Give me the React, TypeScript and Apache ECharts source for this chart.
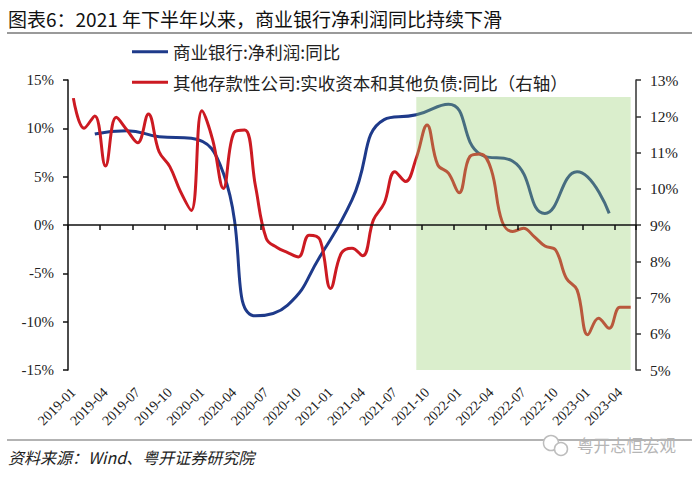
import React, { useEffect, useRef } from "react";
import * as echarts from "echarts";

const months: string[] = [
  "2019-01", "2019-02", "2019-03", "2019-04", "2019-05", "2019-06", "2019-07", "2019-08", "2019-09", "2019-10", "2019-11", "2019-12",
  "2020-01", "2020-02", "2020-03", "2020-04", "2020-05", "2020-06", "2020-07", "2020-08", "2020-09", "2020-10", "2020-11", "2020-12",
  "2021-01", "2021-02", "2021-03", "2021-04", "2021-05", "2021-06", "2021-07", "2021-08", "2021-09", "2021-10", "2021-11", "2021-12",
  "2022-01", "2022-02", "2022-03", "2022-04", "2022-05", "2022-06", "2022-07", "2022-08", "2022-09", "2022-10", "2022-11", "2022-12",
  "2023-01", "2023-02", "2023-03", "2023-04", "2023-05",
];

// 商业银行:净利润:同比 (quarterly, left axis, %)
const quarterMonths: string[] = [
  "2019-03", "2019-06", "2019-09", "2019-12", "2020-03", "2020-06", "2020-09", "2020-12",
  "2021-03", "2021-06", "2021-09", "2021-12", "2022-03", "2022-06", "2022-09", "2022-12", "2023-03",
];
const bankProfitYoY: number[] = [
  9.41, 9.76, 9.14, 8.97, 5.35, -9.4, -8.28, -3.28,
  2.59, 10.9, 11.4, 12.5, 7.3, 6.6, 1.2, 5.5, 1.2,
];

// 其他存款性公司:实收资本和其他负债:同比 (monthly, right axis, %)
const depositCorpYoY: number[] = [
  12.50, 11.67, 12.01, 10.63, 11.97, 11.62, 11.27, 12.06, 11.02, 10.61, 9.92, 9.40,
  12.15, 11.35, 10.01, 11.55, 11.62, 10.06, 8.63, 8.38, 8.24, 8.12, 8.72, 8.60,
  7.25, 8.22, 8.36, 8.15, 9.14, 9.60, 10.47, 10.20, 10.85, 11.76, 10.66, 10.43,
  9.89, 10.89, 10.96, 10.52, 9.10, 8.82, 8.91, 8.68, 8.42, 8.31, 7.53, 7.21,
  5.97, 6.43, 6.15, 6.73, 6.73,
];

const leftMin = -15;
const leftMax = 15;
const leftInterval = 5;
const rightMin = 5;
const rightMax = 13;
const rightInterval = 1;

const shadeStart = "2021-09";
const shadeEnd = "2023-05";
const shadeTop = 13.25;

const NAME_BANK = "商业银行:净利润:同比";
const NAME_DEP = "其他存款性公司:实收资本和其他负债:同比（右轴）";
const TITLE = "图表6：2021 年下半年以来，商业银行净利润同比持续下滑";
const SOURCE = "资料来源：Wind、粤开证券研究院";
const WATERMARK = "粤开志恒宏观";

export default function App() {
  const ref = useRef<HTMLDivElement>(null);
  useEffect(() => {
    if (!ref.current) return;
    const chart = echarts.init(ref.current, undefined, { renderer: "svg" });
    const bankSeries = months.map((m) => {
      const k = quarterMonths.indexOf(m);
      return k >= 0 ? bankProfitYoY[k] : null;
    });
    const serif = "'Liberation Serif', 'Times New Roman', serif";
    const cjk = "'Noto Sans CJK SC', sans-serif";
    const labelColor = "#222";

    chart.setOption({
      animation: false,
      backgroundColor: "#ffffff",
      grid: { left: 68, right: 64, top: 80, bottom: 108, containLabel: false },
      legend: {
        orient: "vertical",
        left: 127,
        top: 38,
        itemWidth: 36,
        itemHeight: 3,
        itemGap: 13,
        icon: "rect",
        textStyle: { fontFamily: cjk, fontSize: 17.5, color: "#222", lineHeight: 17 },
        data: [NAME_BANK, NAME_DEP],
      },
      xAxis: [
        {
          type: "category",
          data: months,
          position: "bottom",
          boundaryGap: true,
          axisLine: { show: false, onZero: false },
          axisTick: { show: false },
          splitLine: { show: false },
          axisLabel: {
            interval: 2,
            rotate: 45,
            margin: 20,
            fontSize: 14,
            fontFamily: serif,
            color: labelColor,
          },
        },
        {
          type: "category",
          data: months,
          position: "bottom",
          boundaryGap: true,
          z: 6,
          axisLine: {
            show: true,
            onZero: true,
            onZeroAxisIndex: 0,
            lineStyle: { color: "#111", width: 1.5 },
          },
          axisTick: {
            show: true,
            interval: 2,
            length: 5,
            inside: false,
            lineStyle: { color: "#111", width: 1.5 },
          },
          axisLabel: { show: false },
          splitLine: { show: false },
        },
      ],
      yAxis: [
        {
          type: "value",
          min: leftMin,
          max: leftMax,
          interval: leftInterval,
          position: "left",
          axisLine: { show: true, onZero: false, lineStyle: { color: "#111", width: 1.5 } },
          axisTick: { show: true, length: 5, lineStyle: { color: "#111", width: 1.5 } },
          splitLine: { show: false },
          axisLabel: {
            formatter: "{value}%",
            margin: 14,
            fontSize: 15,
            fontFamily: serif,
            color: labelColor,
          },
        },
        {
          type: "value",
          min: rightMin,
          max: rightMax,
          interval: rightInterval,
          position: "right",
          axisLine: { show: true, onZero: false, lineStyle: { color: "#333", width: 1.5 } },
          axisTick: { show: true, length: 5, lineStyle: { color: "#333", width: 1.5 } },
          splitLine: { show: false },
          axisLabel: {
            formatter: "{value}%",
            margin: 14,
            fontSize: 15.5,
            fontFamily: serif,
            color: labelColor,
          },
        },
      ],
      series: [
        {
          name: NAME_BANK,
          type: "line",
          xAxisIndex: 0,
          yAxisIndex: 0,
          data: bankSeries,
          connectNulls: true,
          smooth: 0.5,
          symbol: "none",
          z: 2,
          lineStyle: { color: "#1e3a8a", width: 3 },
          itemStyle: { color: "#1e3a8a" },
          markArea: {
            silent: true,
            z: 5,
            itemStyle: { color: "rgba(149,206,109,0.35)", borderWidth: 0 },
            label: { show: false },
            data: [[{ xAxis: shadeStart, yAxis: shadeTop }, { xAxis: shadeEnd, yAxis: leftMin }]],
          },
        },
        {
          name: NAME_DEP,
          type: "line",
          xAxisIndex: 0,
          yAxisIndex: 1,
          data: depositCorpYoY,
          smooth: 0.4,
          symbol: "none",
          z: 2,
          lineStyle: { color: "#cc1a22", width: 3 },
          itemStyle: { color: "#cc1a22" },
        },
      ],
      graphic: [
        {
          type: "text",
          left: 8,
          top: 9,
          style: { text: TITLE, fontSize: 19, fontFamily: cjk, fontWeight: "normal", fill: "#111" },
        },
        {
          type: "line",
          shape: { x1: 7, y1: 33, x2: 692, y2: 33 },
          style: { stroke: "#9a9a9a", lineWidth: 2 },
        },
        {
          type: "line",
          shape: { x1: 7, y1: 440, x2: 692, y2: 440 },
          style: { stroke: "#9a9a9a", lineWidth: 1.5 },
        },
        {
          type: "text",
          left: 8,
          top: 449,
          style: { text: SOURCE, fontSize: 16, fontFamily: cjk, fontStyle: "italic", fill: "#222" },
        },
        {
          type: "circle",
          shape: { cx: 551, cy: 443, r: 7.5 },
          style: { fill: "#ffffff", stroke: "#bdbdbd", lineWidth: 1.5 },
        },
        {
          type: "circle",
          shape: { cx: 561, cy: 449, r: 6.5 },
          style: { fill: "#ffffff", stroke: "#bdbdbd", lineWidth: 1.5 },
        },
        {
          type: "text",
          left: 577,
          top: 437,
          style: { text: WATERMARK, fontSize: 16.5, fontFamily: cjk, fill: "#b5b5b5" },
        },
      ],
    });
    return () => chart.dispose();
  }, []);
  return (
    <div
      ref={ref}
      style={{ position: "fixed", left: 0, top: 0, width: 700, height: 478, background: "#fff" }}
    />
  );
}
